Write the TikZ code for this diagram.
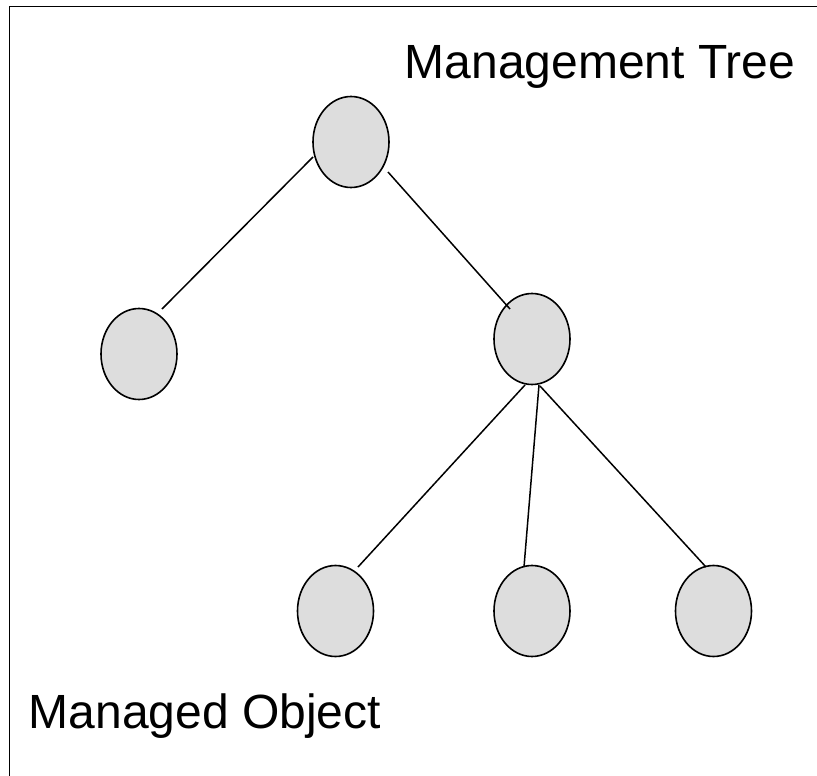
\documentclass[tikz,border=0pt]{standalone}
\usepackage{fontspec}
\setmainfont{Liberation Sans}
\usetikzlibrary{shapes.geometric,calc}
\definecolor{nodefill}{RGB}{221,221,221}
\begin{document}
\begin{tikzpicture}[x=1pt,y=-1pt,
  treenode/.style={ellipse,draw=black,line width=1.6pt,fill=nodefill,
    minimum width=76pt,minimum height=91pt,inner sep=0pt},
  edge/.style={line width=1.5pt,line cap=butt},
  frameline/.style={line width=1.8pt},
  label/.style={anchor=base west,inner sep=0pt,
    font=\fontsize{48}{57}\selectfont}]
\useasboundingbox (0,0) rectangle (817,776);
% frame (right and bottom edges lie outside the picture)
\coordinate (ftr) at (817,6.5);
\coordinate (ftl) at (9.5,6.5);
\coordinate (fbl) at (9.5,776);
\draw[frameline] (ftr) -- (ftl) -- (fbl);
% nodes
\node[treenode] (root) at (351,142) {};
\node[treenode] (left) at (139,354) {};
\node[treenode] (right) at (532,339) {};
\node[treenode] (b1) at (335.5,611) {};
\node[treenode] (b2) at (532,611) {};
\node[treenode] (b3) at (713.5,611) {};
% connectors
\draw[edge] ($(root.center)+(-38,15)$) -- ($(left.center)+(23,-45)$);
\draw[edge] ($(root.center)+(37,30)$) -- ($(right.center)+(-22,-30)$);
\draw[edge] ($(right.center)+(-7,46)$) -- ($(b1.center)+(22.5,-44)$);
\draw[edge] ($(right.center)+(7,46)$) -- ($(b2.center)+(-8,-44)$);
\draw[edge] ($(right.center)+(8,47)$) -- ($(b3.center)+(-7.5,-44)$);
% labels
\node[label] (title) at (404.5,79) {Management Tree};
\node[label] (mo) at (28.5,728) {Managed Object};
\end{tikzpicture}
\end{document}
